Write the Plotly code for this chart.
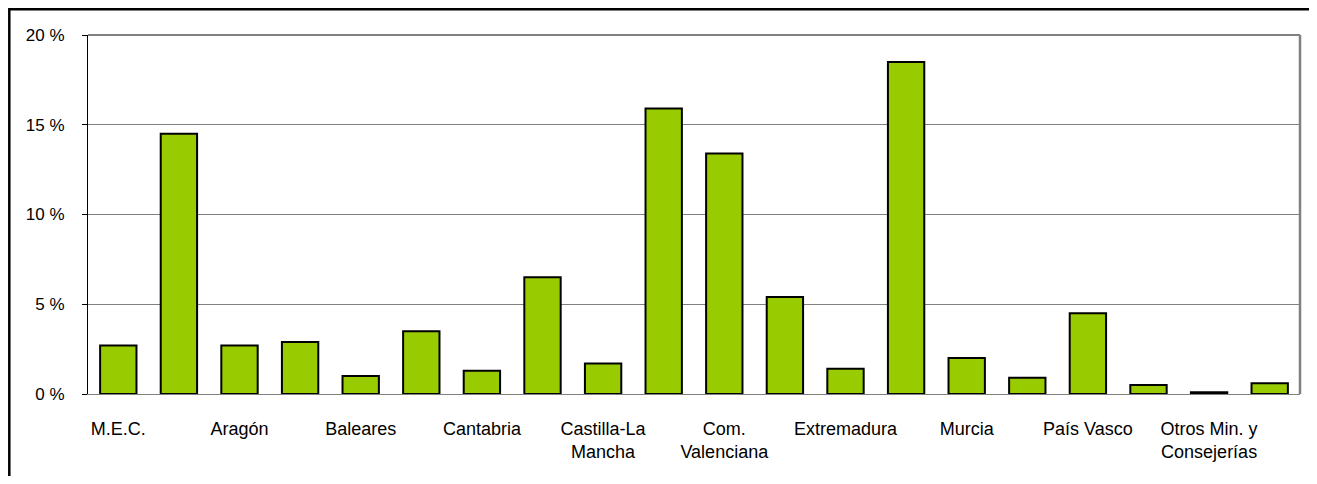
import plotly.graph_objects as go

categories = ["M.E.C.", "Andalucía", "Aragón", "Asturias", "Baleares", "Canarias",
              "Cantabria", "Castilla y León", "Castilla-La<br>Mancha", "Cataluña",
              "Com.<br>Valenciana", "Madrid", "Extremadura", "Galicia", "Murcia",
              "Navarra", "País Vasco", "La Rioja", "Otros Min. y<br>Consejerías",
              "Universidades"]
values = [2.7, 14.5, 2.7, 2.9, 1.0, 3.5, 1.3, 6.5, 1.7, 15.9,
          13.4, 5.4, 1.4, 18.5, 2.0, 0.9, 4.5, 0.5, 0.1, 0.6]
shown_ticks = [0, 2, 4, 6, 8, 10, 12, 14, 16, 18]
y_ticks = [0, 5, 10, 15, 20]
y_tick_labels = ["0 %", "5 %", "10 %", "15 %", "20 %"]

# page is offset by the 8px body margin
W, H = 1301, 468
ml, mr, mt, mb = 80, 9, 27, 82
pw, ph = W - ml - mr, H - mt - mb

def px_x(p):
    return (p - ml) / pw

def px_y(p):
    return (H - mb - p) / ph

fig = go.Figure()
fig.add_trace(go.Bar(
    x=list(range(len(values))), y=values, width=0.6,
    marker=dict(color="#99CC00", line=dict(color="#000000", width=2)),
    hoverinfo="skip",
))

fig.update_layout(
    width=W, height=H,
    margin=dict(l=ml, r=mr, t=mt, b=mb),
    paper_bgcolor="white", plot_bgcolor="white",
    font=dict(family="Liberation Sans, Arial, sans-serif", size=17, color="#000000"),
    showlegend=False,
    xaxis=dict(
        range=[-0.5, len(values) - 0.5],
        tickmode="array",
        tickvals=shown_ticks,
        ticktext=[categories[i] for i in shown_ticks],
        tickfont=dict(size=18),
        showgrid=False, zeroline=False,
        showline=True, linecolor="#808080", linewidth=1,
        ticks="", ticklabelstandoff=18,
        tickangle=0,
        fixedrange=True,
    ),
    yaxis=dict(
        range=[0, 20],
        tickmode="array",
        tickvals=y_ticks,
        ticktext=y_tick_labels,
        showgrid=True, gridcolor="#808080", gridwidth=1,
        zeroline=False,
        showline=True, linecolor="#000000", linewidth=1,
        ticks="outside", ticklen=5, tickcolor="#000000",
        ticklabelstandoff=14,
        fixedrange=True,
    ),
    shapes=[
        dict(type="line", xref="paper", yref="paper", x0=0, x1=1, y0=1, y1=1,
             line=dict(color="#808080", width=2)),
        dict(type="line", xref="paper", yref="paper", x0=1, x1=1, y0=0, y1=1,
             line=dict(color="#808080", width=2.5)),
        dict(type="line", xref="paper", yref="paper",
             x0=px_x(1.3), x1=px_x(W + 10), y0=px_y(1.3), y1=px_y(1.3),
             line=dict(color="#000000", width=2.5)),
        dict(type="line", xref="paper", yref="paper",
             x0=px_x(1.3), x1=px_x(1.3), y0=px_y(0), y1=px_y(H + 10),
             line=dict(color="#000000", width=2.5)),
    ],
)

fig.write_html("out.html", config={"displayModeBar": False})
